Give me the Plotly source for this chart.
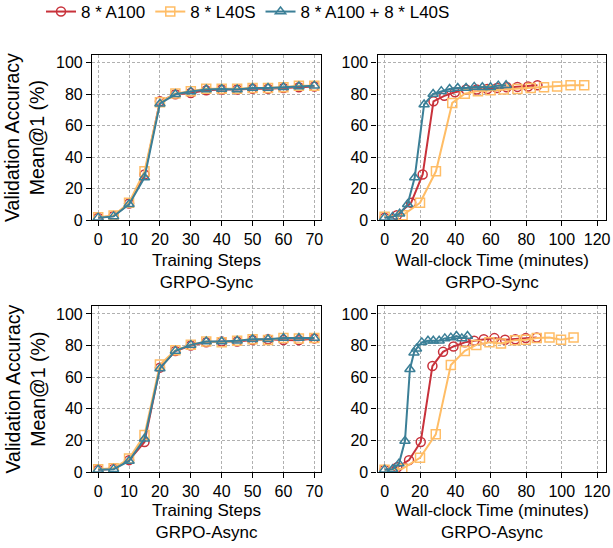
import plotly.graph_objects as go

# ---------------- data ----------------
steps = [0, 5, 10, 15, 20, 25, 30, 35, 40, 45, 50, 55, 60, 65, 70]

sync_steps_a100 = [1.5, 2.5, 10.5, 29, 75.5, 80, 80.8, 82.5, 83, 83, 83.5, 83.5, 84, 84.5, 85]
sync_steps_l40s = [1.8, 2.8, 11, 31, 75, 80.5, 82, 83.5, 83.5, 83.5, 84, 84, 84.5, 85.5, 85.5]
sync_steps_mix = [1.5, 2.3, 10, 27, 74, 80, 81.7, 83, 83.4, 83, 84, 84, 84.5, 85, 85.5]

sync_time_a100_x = [0, 7, 15, 21.5, 27.6, 33.7, 39.7, 46, 52, 58, 63.5, 69, 75, 81, 86.3]
sync_time_a100_y = [1.5, 3, 11, 29, 75.5, 79, 81.3, 83, 83, 83.4, 84, 84.5, 84.7, 85, 85.7]
sync_time_l40s_x = [0, 10.2, 20, 29, 38.2, 45.3, 52.7, 59.8, 67.3, 75, 82.5, 90, 97.4, 105, 112.7]
sync_time_l40s_y = [2, 3, 11, 31, 74.5, 80.4, 82, 82.5, 83, 83.4, 84, 84.5, 85, 85.7, 85.7]
sync_time_mix_x = [0, 4.5, 8.5, 13, 17, 22.3, 27.4, 32, 36.7, 41.3, 46, 50.6, 55.2, 59.8, 64.2, 68.6]
sync_time_mix_y = [1.5, 2, 4, 10, 27, 73.5, 80.2, 82, 83.4, 84, 84, 84.7, 84.5, 84.5, 85.5, 85.7]

async_steps_a100 = [1.5, 2, 7.5, 19, 66, 76.5, 80, 82, 82.5, 82.5, 83.5, 84, 83.5, 83.4, 84.5]
async_steps_l40s = [1.8, 2.3, 8.5, 23.4, 68, 77, 80.5, 82.5, 82, 83, 84, 83.5, 84.7, 84.5, 84.7]
async_steps_mix = [1.5, 1.8, 7, 21, 65.5, 76.6, 80.4, 82.5, 82.5, 83, 84, 84, 84.7, 84.7, 84.7]

async_time_a100_x = [0, 7.2, 13.8, 20.4, 27, 33, 38.9, 45.3, 50.6, 56, 62, 68, 73.8, 79.7, 85.9]
async_time_a100_y = [1.5, 3, 7.5, 19, 67, 76, 79.4, 82, 83, 84, 84.7, 83.6, 84, 84.7, 85]
async_time_l40s_x = [0, 10, 20, 28.9, 37.4, 45.3, 51.8, 59.2, 65.7, 73.6, 79.7, 85.9, 93.1, 99.6, 106.7]
async_time_l40s_y = [1.5, 2, 9, 23.8, 67.7, 76.6, 80.4, 82, 81.3, 83.4, 83.6, 84.7, 85, 83.6, 85]
async_time_mix_x = [0, 4.5, 8.1, 11.5, 14.3, 16.6, 18, 21, 24.5, 27.5, 30.8, 34, 37.4, 40.6, 43.6, 46.8]
async_time_mix_y = [1.5, 1.7, 5.3, 19.6, 65, 75.5, 78, 82, 83, 83, 83, 84.5, 85, 86, 84.5, 86]

series_names = ["8 * A100", "8 * L40S", "8 * A100 + 8 * L40S"]
y_ticks = [0, 20, 40, 60, 80, 100]
step_ticks = [0, 10, 20, 30, 40, 50, 60, 70]
time_ticks = [0, 20, 40, 60, 80, 100, 120]
x_titles = ["Training Steps", "Wall-clock Time (minutes)"]
row_titles = ["GRPO-Sync", "GRPO-Async"]
y_title = "Validation Accuracy<br>Mean@1 (%)"

# ---------------- style ----------------
W, H = 613, 548
FONT = "Liberation Sans, Arial, Helvetica, sans-serif"
colors = ["#c8323b", "#ffbd66", "#3b7f97"]
symbols = ["circle-open", "square-open", "triangle-up-open"]

fig = go.Figure()

panels = [
    ("x", "y", [steps, steps, steps], [sync_steps_a100, sync_steps_l40s, sync_steps_mix]),
    ("x2", "y2", [sync_time_a100_x, sync_time_l40s_x, sync_time_mix_x],
     [sync_time_a100_y, sync_time_l40s_y, sync_time_mix_y]),
    ("x3", "y3", [steps, steps, steps], [async_steps_a100, async_steps_l40s, async_steps_mix]),
    ("x4", "y4", [async_time_a100_x, async_time_l40s_x, async_time_mix_x],
     [async_time_a100_y, async_time_l40s_y, async_time_mix_y]),
]

for p, (xa, ya, xs, ys) in enumerate(panels):
    for i in range(3):
        fig.add_trace(go.Scatter(
            x=xs[i], y=ys[i], xaxis=xa, yaxis=ya, mode="lines+markers",
            name=series_names[i], showlegend=(p == 0),
            line=dict(color=colors[i], width=2),
            marker=dict(symbol=symbols[i], size=9, color=colors[i],
                        line=dict(width=1.5, color=colors[i])),
        ))

def px_x(a, b):
    return [a / W, b / W]

def px_y(top, bottom):
    return [(H - bottom) / H, (H - top) / H]

col_dom = [px_x(92, 320.5), px_x(377.5, 606)]
row_dom = [px_y(55, 220), px_y(306, 472)]

common = dict(
    showline=True, linecolor="black", linewidth=1.2, mirror=True,
    ticks="outside", ticklen=5, tickwidth=1.2, tickcolor="black",
    showgrid=True, gridcolor="#b0b0b0", griddash="3px,2px", gridwidth=1,
    zeroline=False, tickfont=dict(family=FONT, size=16, color="black"),
)

axes = {}
for k in range(4):
    r, c = divmod(k, 2)
    suffix = "" if k == 0 else str(k + 1)
    xr = [-2, 72] if c == 0 else [-4, 125]
    xt = step_ticks if c == 0 else time_ticks
    axes["xaxis" + suffix] = dict(common, domain=col_dom[c], anchor="y" + suffix,
                                  range=xr, tickvals=xt)
    axes["yaxis" + suffix] = dict(common, domain=row_dom[r], anchor="x" + suffix,
                                  range=[0, 105], tickvals=y_ticks)

fig.update_layout(**axes)

annotations = []
for r in range(2):
    top, bottom = [(55, 220), (306, 472)][r]
    cy = (top + bottom) / 2
    annotations.append(dict(
        text=y_title, textangle=-90, xref="paper", yref="paper",
        x=24.5 / W, y=(H - cy) / H, xanchor="center", yanchor="middle",
        showarrow=False, font=dict(family=FONT, size=19.5, color="black"),
    ))
    for c in range(2):
        cx = [(92 + 320.5) / 2, (377.5 + 606) / 2][c]
        ty = [271.5, 521.5][r]
        annotations.append(dict(
            text=x_titles[c] + "<br>" + row_titles[r], xref="paper", yref="paper",
            x=cx / W, y=(H - ty) / H, xanchor="center", yanchor="middle",
            showarrow=False, font=dict(family=FONT, size=17, color="black"),
        ))

fig.update_layout(
    width=W, height=H,
    margin=dict(l=0, r=0, t=0, b=0, autoexpand=False),
    paper_bgcolor="white", plot_bgcolor="white",
    font=dict(family=FONT, size=16, color="black"),
    annotations=annotations,
    legend=dict(orientation="h", x=41 / W, y=1 + 6 / H, xanchor="left", yanchor="top",
                font=dict(family=FONT, size=17, color="black"),
                bgcolor="rgba(0,0,0,0)", itemwidth=30, tracegroupgap=0),
)

fig.write_html("out.html", config={"displayModeBar": False},
               post_script="document.body.style.margin='0';document.body.style.padding='0';")
